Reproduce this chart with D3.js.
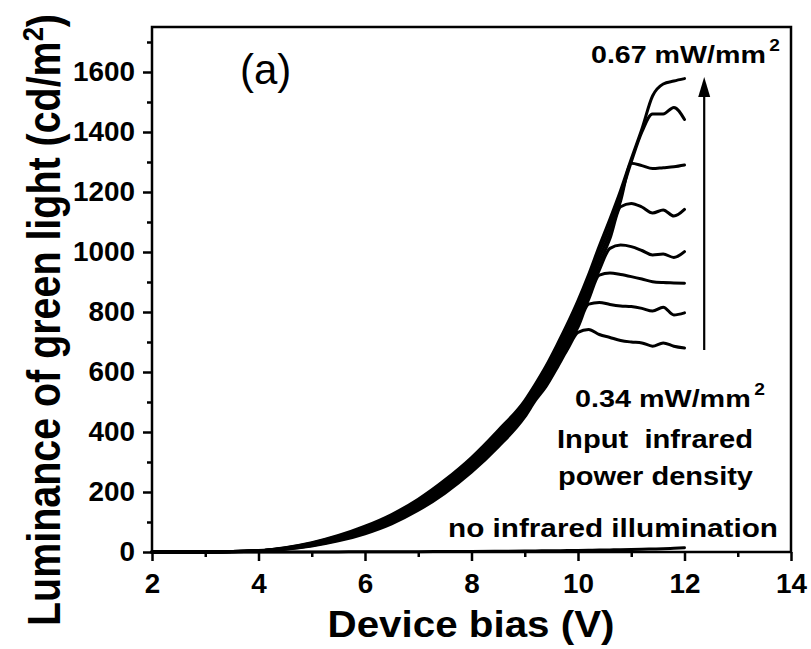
<!DOCTYPE html>
<html lang="en">
<head>
<meta charset="UTF-8">
<title>Luminance of green light vs device bias</title>
<script src="https://d3js.org/d3.v7.min.js"></script>
<style>
  body { margin: 0; background: #fff; }
  svg text { font-family: "Liberation Sans", Arial, sans-serif; font-weight: bold; fill: #000; }
  .curve { fill: none; stroke: #000; stroke-width: 3; stroke-linejoin: round; stroke-linecap: round; }
  .axis path.domain { display: none; }
  .axis line { stroke: #000; stroke-width: 2.5; }
</style>
</head>
<body>
<div id="chart"></div>
<script>
// device bias (V), shared by every curve
const bias = [2, 3, 4, 4.5, 5, 5.5, 6, 6.5, 7, 7.5, 8, 8.5, 9, 9.2, 9.4, 9.6, 9.8, 10, 10.2, 10.4, 10.6, 10.8, 11, 11.2, 11.4, 11.6, 11.8, 12];

// luminance (cd/m2) for increasing input infrared power density, 0.34 -> 0.67 mW/mm2
const ir1 = [0, 0.3, 3, 9, 20, 37, 61, 94, 139, 196, 266, 350, 450, 505, 552, 612, 675, 732, 742, 725, 715, 705, 700, 697, 686, 697, 686, 680];
const ir2 = [0, 0.3, 3.3, 9.8, 21.6, 39.6, 64.6, 98, 144, 202, 273, 358, 458, 513, 562, 623, 687, 750, 826, 832, 825, 820, 818, 812, 803, 816, 790, 797];
const ir3 = [0, 0.4, 3.5, 10.6, 23, 42, 68, 103, 150, 209, 280, 366, 466, 521, 571, 634, 699, 765, 842, 923, 930, 925, 918, 910, 901, 898, 897, 896];
const ir4 = [0, 0.4, 3.8, 11.4, 24.7, 44.7, 71.7, 107, 155, 215, 287, 374, 474, 529, 581, 645, 711, 779, 858, 940, 1012, 1023, 1018, 1005, 990, 993, 982, 1001];
const ir5 = [0, 0.4, 4, 12.1, 26.3, 47.3, 75.3, 112, 160, 221, 294, 381, 481, 536, 591, 655, 724, 794, 875, 960, 1045, 1151, 1162, 1150, 1130, 1140, 1120, 1142];
const ir6 = [0, 0.5, 4.3, 12.9, 27.9, 49.9, 78.9, 116, 165, 227, 301, 389, 489, 544, 601, 666, 736, 809, 892, 980, 1066, 1170, 1296, 1288, 1278, 1281, 1284, 1290];
const ir7 = [0, 0.5, 4.5, 13.7, 29.4, 52.4, 82.4, 121, 171, 234, 308, 397, 497, 552, 610, 677, 748, 823, 908, 1000, 1088, 1188, 1300, 1400, 1460, 1460, 1482, 1442];
const ir8 = [0, 0.5, 4.8, 14.5, 31, 55, 86, 125, 176, 240, 315, 405, 505, 560, 620, 688, 760, 838, 925, 1020, 1110, 1205, 1310, 1410, 1520, 1560, 1570, 1578];
// no infrared illumination
const dark = [0, 0, 0, 0, 0.2, 0.4, 0.6, 0.9, 1.2, 1.6, 2, 2.6, 3.3, 3.6, 4, 4.4, 4.8, 5.3, 5.8, 6.3, 6.9, 7.5, 8.2, 9, 10, 11, 12.5, 14];

const xTicks = [2, 4, 6, 8, 10, 12, 14];
const xMinor = [3, 5, 7, 9, 11, 13];
const yTicks = [0, 200, 400, 600, 800, 1000, 1200, 1400, 1600];
const yMinor = [100, 300, 500, 700, 900, 1100, 1300, 1500, 1700];

const W = 811, H = 649;
const x = d3.scaleLinear().domain([2, 14]).range([152, 791]);
const y = d3.scaleLinear().domain([0, 1750]).range([552, 27]);

const svg = d3.select("#chart").append("svg")
  .attr("width", W).attr("height", H);

// curves
const line = d3.line()
  .x((d, i) => x(bias[i]))
  .y(d => y(d))
  .curve(d3.curveMonotoneX);

svg.selectAll(".curve")
  .data([dark, ir1, ir2, ir3, ir4, ir5, ir6, ir7, ir8])
  .enter().append("path")
  .attr("class", "curve")
  .attr("d", line);

// axes
svg.append("g").attr("class", "axis")
  .attr("transform", `translate(0,${y(0)})`)
  .call(d3.axisBottom(x).tickValues(xTicks).tickSize(9).tickPadding(13).tickFormat(d3.format("d")));
svg.append("g").attr("class", "axis")
  .attr("transform", `translate(0,${y(0)})`)
  .call(d3.axisBottom(x).tickValues(xMinor).tickSize(5).tickFormat(""));
svg.append("g").attr("class", "axis")
  .attr("transform", `translate(${x(2)},0)`)
  .call(d3.axisLeft(y).tickValues(yTicks).tickSize(9).tickPadding(8).tickFormat(d3.format("d")));
svg.append("g").attr("class", "axis")
  .attr("transform", `translate(${x(2)},0)`)
  .call(d3.axisLeft(y).tickValues(yMinor).tickSize(5).tickFormat(""));
svg.selectAll(".axis text")
  .style("font-family", '"Liberation Sans", Arial, sans-serif')
  .style("font-weight", "bold")
  .style("font-size", "27px")
  .attr("textLength", function() { return this.textContent.length * 15.5; })
  .attr("lengthAdjust", "spacingAndGlyphs");

// frame
svg.append("rect")
  .attr("x", x(2)).attr("y", y(1750))
  .attr("width", x(14) - x(2)).attr("height", y(0) - y(1750))
  .attr("fill", "none").attr("stroke", "#000").attr("stroke-width", 2.5);

// axis titles
svg.append("text")
  .attr("x", 471).attr("y", 637)
  .attr("text-anchor", "middle")
  .attr("font-size", 37)
  .attr("textLength", 287).attr("lengthAdjust", "spacingAndGlyphs")
  .text("Device bias (V)");

const yt = svg.append("text")
  .attr("transform", "translate(60,320) scale(1.25,1) rotate(-90)")
  .attr("text-anchor", "middle")
  .attr("font-size", 37)
  .attr("textLength", 612).attr("lengthAdjust", "spacingAndGlyphs");
yt.append("tspan").text("Luminance of green light (cd/m");
yt.append("tspan").attr("font-size", 24).attr("dy", -14).text("2");
yt.append("tspan").attr("dy", 14).text(")");

// panel label
svg.append("text")
  .attr("x", 240).attr("y", 84)
  .attr("font-size", 42)
  .style("font-weight", "normal")
  .text("(a)");

// arrow for increasing infrared power density
const arrowV = 12.37, arrowFrom = 673, arrowTo = 1583;
svg.append("line")
  .attr("x1", x(arrowV)).attr("x2", x(arrowV))
  .attr("y1", y(arrowFrom)).attr("y2", y(arrowTo) + 12)
  .attr("stroke", "#000").attr("stroke-width", 2.2);
svg.append("path")
  .attr("d", `M${x(arrowV)},${y(arrowTo)} L${x(arrowV) - 6},${y(arrowTo) + 20} L${x(arrowV) + 6},${y(arrowTo) + 20} Z`)
  .attr("fill", "#000");

// annotations
function powerLabel(px, py, value) {
  const t = svg.append("text").attr("x", px).attr("y", py).attr("font-size", 24);
  t.append("tspan").text(value + " mW/mm");
  t.append("tspan").attr("font-size", 16).attr("dy", -12).attr("dx", 3).text("2");
  return t;
}
powerLabel(591, 63, "0.67").attr("textLength", 189).attr("lengthAdjust", "spacingAndGlyphs");
powerLabel(575, 407, "0.34").attr("textLength", 190).attr("lengthAdjust", "spacingAndGlyphs");

svg.append("text").attr("x", 557).attr("y", 448).attr("font-size", 25)
  .attr("textLength", 196).attr("lengthAdjust", "spacingAndGlyphs")
  .style("white-space", "pre")
  .text("Input  infrared");
svg.append("text").attr("x", 558).attr("y", 485).attr("font-size", 25)
  .attr("textLength", 195).attr("lengthAdjust", "spacingAndGlyphs")
  .text("power density");
svg.append("text").attr("x", 448).attr("y", 537).attr("font-size", 25)
  .attr("textLength", 330).attr("lengthAdjust", "spacingAndGlyphs")
  .text("no infrared illumination");
</script>
</body>
</html>
